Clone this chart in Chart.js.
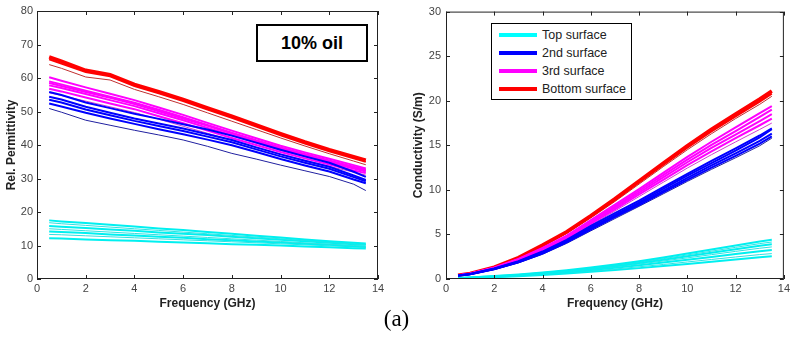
<!DOCTYPE html>
<html>
<head>
<meta charset="utf-8">
<script src="https://cdn.jsdelivr.net/npm/chart.js@4.4.1/dist/chart.umd.min.js"></script>
<style>
  body { margin: 0; background: #fff; width: 793px; height: 342px; position: relative; overflow: hidden; font-family: "Liberation Sans", Arial, sans-serif; }
  canvas { position: absolute; top: 0; }
  #left { left: 0; }
  #right { left: 400px; }
  .tag { position: absolute; left: 256px; top: 24px; width: 108px; height: 34px; border: 2px solid #000; background: #fff;
         font: bold 18px "Liberation Sans", Arial, sans-serif; line-height: 34px; text-align: center; color: #000; }
  .legend { position: absolute; left: 491px; top: 23px; width: 139px; height: 75px; border: 1px solid #000; background: #fff; }
  .legend div { position: absolute; left: 7px; height: 18px; font: 12.5px "Liberation Sans", Arial, sans-serif; color: #222; line-height: 18px; }
  .legend span { display: inline-block; width: 38px; height: 4px; vertical-align: middle; margin-right: 5px; position: relative; top: -1px; }
  .caption { position: absolute; left: 0; width: 793px; top: 306px; text-align: center; font: 23px "Liberation Serif", "Times New Roman", serif; color: #000; }
</style>
</head>
<body>
<canvas id="left" width="392" height="312"></canvas>
<canvas id="right" width="393" height="312"></canvas>
<div class="tag">10% oil</div>
<div class="legend">
  <div style="top:2px"><span style="background:#00ffff"></span>Top surface</div>
  <div style="top:20px"><span style="background:#0000ff"></span>2nd surface</div>
  <div style="top:38px"><span style="background:#ff00ff"></span>3rd surface</div>
  <div style="top:56px"><span style="background:#ff0000"></span>Bottom surface</div>
</div>
<div class="caption">(a)</div>
<script>
// frequency points (GHz)
const freq = [0.5, 1, 2, 3, 4, 5, 6, 7, 8, 9, 10, 11, 12, 13, 13.5];
const xTicks = [0, 2, 4, 6, 8, 10, 12, 14];
const epsTicks = [0, 10, 20, 30, 40, 50, 60, 70, 80];
const sigTicks = [0, 5, 10, 15, 20, 25, 30];
const surfaces = ["Top surface", "2nd surface", "3rd surface", "Bottom surface"];

// relative permittivity, one row per measured curve
const topEps = [
  [17.5, 17.2, 16.7, 16.2, 15.7, 15.1, 14.6, 14.0, 13.5, 12.9, 12.4, 11.8, 11.3, 10.8, 10.6],
  [16.8, 16.5, 16.0, 15.5, 15.0, 14.5, 14.0, 13.5, 13.0, 12.5, 12.0, 11.5, 11.0, 10.5, 10.3],
  [15.8, 15.6, 15.2, 14.8, 14.4, 13.9, 13.5, 13.1, 12.6, 12.2, 11.7, 11.3, 10.8, 10.4, 10.2],
  [15.0, 14.8, 14.4, 14.0, 13.6, 13.2, 12.8, 12.4, 12.0, 11.6, 11.2, 10.8, 10.4, 10.0, 9.8],
  [14.2, 14.0, 13.7, 13.3, 13.0, 12.6, 12.3, 11.9, 11.6, 11.2, 10.9, 10.5, 10.2, 9.8, 9.6],
  [13.3, 13.2, 12.9, 12.6, 12.3, 12.0, 11.7, 11.4, 11.1, 10.8, 10.5, 10.2, 9.9, 9.6, 9.4],
  [12.2, 12.1, 11.8, 11.6, 11.4, 11.1, 10.9, 10.7, 10.4, 10.2, 10.0, 9.7, 9.5, 9.2, 9.1]
];
const secondEps = [
  [55.8, 54.9, 52.7, 51.0, 49.3, 47.8, 46.2, 44.6, 42.8, 40.7, 38.6, 36.6, 34.7, 32.0, 30.5],
  [54.4, 53.6, 51.4, 49.6, 47.9, 46.4, 44.9, 43.2, 41.5, 39.3, 37.2, 35.3, 33.5, 30.9, 29.6],
  [53.5, 52.7, 50.6, 48.9, 47.2, 45.7, 44.2, 42.5, 40.8, 38.7, 36.6, 34.7, 32.9, 30.4, 29.2],
  [52.4, 51.5, 49.6, 47.9, 46.3, 44.7, 43.2, 41.6, 39.9, 37.9, 35.8, 33.9, 32.1, 29.7, 28.6],
  [50.9, 49.8, 47.4, 45.9, 44.4, 43.0, 41.5, 39.6, 37.5, 35.8, 34.0, 32.3, 30.6, 28.3, 26.4]
];
const thirdEps = [
  [60.2, 59.2, 57.2, 55.3, 53.4, 51.2, 49.0, 46.6, 44.3, 42.0, 39.8, 37.8, 35.9, 34.0, 33.0],
  [59.0, 58.1, 56.2, 54.4, 52.6, 50.5, 48.3, 46.0, 43.7, 41.4, 39.3, 37.3, 35.4, 33.5, 32.6],
  [58.5, 57.6, 55.8, 54.1, 52.2, 50.1, 47.9, 45.7, 43.4, 41.1, 39.0, 37.0, 35.1, 33.3, 32.4],
  [57.8, 57.0, 55.2, 53.4, 51.6, 49.5, 47.4, 45.1, 42.9, 40.7, 38.6, 36.6, 34.8, 33.0, 32.1],
  [56.8, 56.0, 54.2, 52.4, 50.7, 48.6, 46.5, 44.3, 42.1, 40.0, 37.9, 36.0, 34.2, 32.4, 31.6],
  [55.6, 54.8, 53.1, 51.4, 49.7, 47.7, 45.6, 43.5, 41.4, 39.3, 37.3, 35.4, 33.6, 31.9, 31.0]
];
const bottomEps = [
  [66.3, 65.0, 62.3, 61.0, 58.1, 55.9, 53.6, 51.1, 48.6, 46.0, 43.4, 40.9, 38.6, 36.5, 35.5],
  [65.6, 64.3, 61.8, 60.5, 57.6, 55.4, 53.1, 50.6, 48.1, 45.5, 42.9, 40.4, 38.1, 36.0, 35.0],
  [64.0, 62.9, 60.3, 59.4, 56.6, 54.4, 52.1, 49.6, 47.1, 44.6, 42.1, 39.7, 37.4, 35.2, 34.1]
];

// conductivity (S/m)
const topSig = [
  [0.12, 0.18, 0.33, 0.50, 0.72, 0.98, 1.28, 1.62, 2.00, 2.40, 2.85, 3.30, 3.75, 4.20, 4.40],
  [0.11, 0.17, 0.31, 0.48, 0.69, 0.93, 1.22, 1.54, 1.90, 2.28, 2.70, 3.12, 3.55, 3.97, 4.15],
  [0.10, 0.16, 0.30, 0.46, 0.66, 0.89, 1.16, 1.46, 1.80, 2.16, 2.55, 2.94, 3.34, 3.74, 3.90],
  [0.10, 0.15, 0.28, 0.43, 0.62, 0.84, 1.09, 1.37, 1.68, 2.02, 2.37, 2.73, 3.10, 3.45, 3.60],
  [0.09, 0.14, 0.26, 0.40, 0.57, 0.77, 1.00, 1.26, 1.54, 1.84, 2.16, 2.48, 2.80, 3.12, 3.25],
  [0.08, 0.12, 0.23, 0.36, 0.51, 0.69, 0.89, 1.12, 1.37, 1.63, 1.91, 2.19, 2.47, 2.74, 2.85],
  [0.07, 0.11, 0.21, 0.32, 0.46, 0.62, 0.80, 1.00, 1.22, 1.45, 1.69, 1.94, 2.19, 2.43, 2.55]
];
const secondSig = [
  [0.38, 0.56, 1.18, 2.00, 3.08, 4.40, 5.95, 7.40, 8.80, 10.30, 11.80, 13.25, 14.65, 16.10, 16.90],
  [0.38, 0.55, 1.15, 1.95, 3.00, 4.30, 5.80, 7.20, 8.60, 10.10, 11.60, 13.00, 14.40, 15.90, 16.80],
  [0.37, 0.54, 1.12, 1.90, 2.92, 4.20, 5.65, 7.05, 8.45, 9.90, 11.35, 12.75, 14.10, 15.50, 16.30],
  [0.36, 0.52, 1.10, 1.86, 2.86, 4.12, 5.55, 6.93, 8.30, 9.72, 11.13, 12.50, 13.82, 15.20, 16.00],
  [0.35, 0.50, 1.06, 1.80, 2.78, 4.00, 5.40, 6.78, 8.15, 9.55, 10.95, 12.30, 13.60, 14.95, 15.80]
];
const thirdSig = [
  [0.41, 0.62, 1.30, 2.25, 3.48, 4.86, 6.60, 8.35, 10.10, 11.90, 13.70, 15.40, 17.00, 18.60, 19.40],
  [0.40, 0.60, 1.25, 2.20, 3.40, 4.75, 6.45, 8.15, 9.90, 11.65, 13.40, 15.05, 16.60, 18.20, 19.00],
  [0.40, 0.60, 1.25, 2.18, 3.35, 4.68, 6.35, 8.00, 9.70, 11.40, 13.10, 14.70, 16.20, 17.70, 18.50],
  [0.39, 0.58, 1.22, 2.12, 3.28, 4.58, 6.20, 7.82, 9.48, 11.12, 12.78, 14.33, 15.80, 17.25, 18.00],
  [0.39, 0.58, 1.20, 2.08, 3.20, 4.48, 6.05, 7.63, 9.25, 10.85, 12.45, 13.95, 15.38, 16.78, 17.50]
];
const bottomSig = [
  [0.42, 0.63, 1.32, 2.40, 3.80, 5.30, 7.10, 9.00, 11.00, 13.00, 14.95, 16.80, 18.50, 20.20, 21.10],
  [0.41, 0.62, 1.30, 2.35, 3.72, 5.20, 6.98, 8.85, 10.82, 12.80, 14.72, 16.55, 18.25, 19.90, 20.80],
  [0.40, 0.60, 1.28, 2.30, 3.65, 5.10, 6.85, 8.70, 10.65, 12.60, 14.50, 16.30, 18.00, 19.60, 20.50]
];

const colors = ["#00f0f0", "#0000ff", "#ff00ff", "#ff0000"];
const thinColors = ["#30e0e0", "#2020a0", "#d040d0", "#c03030"];

function buildSets(groups) {
  const sets = [];
  groups.forEach((curves, g) => {
    curves.forEach((vals, i) => {
      const thin = (i === curves.length - 1 && g !== 0) || (g === 0 && i % 2 === 1);
      sets.push({
        label: surfaces[g],
        data: vals.map((v, k) => ({ x: freq[k], y: v })),
        borderColor: thin ? thinColors[g] : colors[g],
        borderWidth: thin ? 1 : (g === 3 && i === 0 ? 3.5 : 2),
        pointRadius: 0,
        tension: 0
      });
    });
  });
  return sets;
}

// box round the plot with MATLAB-style inward ticks on all four sides
const frame = {
  id: "frame",
  afterDraw(chart) {
    const { ctx, chartArea: a, scales: { x, y } } = chart;
    ctx.save();
    ctx.strokeStyle = "#222";
    ctx.lineWidth = 1;
    ctx.strokeRect(a.left + 0.5, a.top + 0.5, a.right - a.left - 1, a.bottom - a.top - 1);
    ctx.beginPath();
    x.ticks.forEach(t => {
      const px = Math.round(x.getPixelForValue(t.value)) + 0.5;
      ctx.moveTo(px, a.bottom); ctx.lineTo(px, a.bottom - 4);
      ctx.moveTo(px, a.top); ctx.lineTo(px, a.top + 4);
    });
    y.ticks.forEach(t => {
      const py = Math.round(y.getPixelForValue(t.value)) + 0.5;
      ctx.moveTo(a.left, py); ctx.lineTo(a.left + 4, py);
      ctx.moveTo(a.right, py); ctx.lineTo(a.right - 4, py);
    });
    ctx.stroke();
    ctx.restore();
  }
};

const tickFont = { family: "'Liberation Sans Narrow', 'Liberation Sans', Arial, sans-serif", size: 11 };
const titleFont = { family: "'Liberation Sans', Arial, sans-serif", size: 12, weight: "bold" };

function makeChart(id, groups, yTicks, yTitle, yWidth, padRight, yTitlePad, yTickPad) {
  return new Chart(document.getElementById(id), {
    type: "line",
    data: { datasets: buildSets(groups) },
    options: {
      responsive: false,
      animation: false,
      devicePixelRatio: 1,
      layout: { padding: { left: 0, top: 11, right: padRight, bottom: 0 } },
      plugins: { legend: { display: false }, tooltip: { enabled: false } },
      scales: {
        x: {
          type: "linear", min: 0, max: 14,
          afterBuildTicks: s => { s.ticks = xTicks.map(v => ({ value: v })); },
          afterFit: s => { s.height = 33; },
          grid: { display: false, drawTicks: false },
          border: { display: false },
          ticks: { font: tickFont, color: "#444", padding: 3, maxRotation: 0 },
          title: { display: true, text: "Frequency (GHz)", font: titleFont, color: "#222", padding: { top: 0, bottom: 1 } }
        },
        y: {
          min: 0, max: yTicks[yTicks.length - 1],
          afterBuildTicks: s => { s.ticks = yTicks.map(v => ({ value: v })); },
          afterFit: s => { s.width = yWidth; },
          ticks: { font: tickFont, color: "#444", padding: yTickPad },
          grid: { display: false, drawTicks: false },
          border: { display: false },
          title: { display: true, text: yTitle, font: titleFont, color: "#222", padding: { top: yTitlePad, bottom: 0 } }
        }
      }
    },
    plugins: [frame]
  });
}

makeChart("left", [topEps, secondEps, thirdEps, bottomEps], epsTicks, "Rel. Permittivity", 37, 14, 4, 4);
makeChart("right", [topSig, secondSig, thirdSig, bottomSig], sigTicks, "Conductivity (S/m)", 46, 6, 11, 5);
</script>
</body>
</html>
